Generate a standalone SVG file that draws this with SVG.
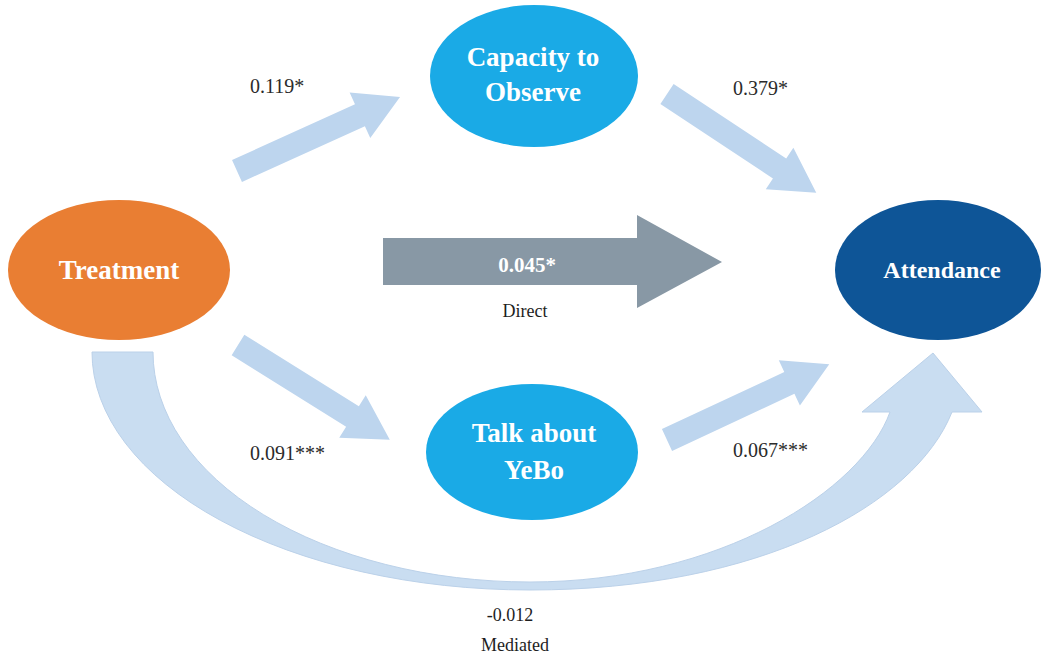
<svg xmlns="http://www.w3.org/2000/svg" width="1042" height="657" viewBox="0 0 1042 657">
  <defs>
    <style>
      .path-arrow { fill: #BDD5EE; }
      .curve { fill: #C9DDF1; stroke: #BBD1E9; stroke-width: 1; }
      .node-label { font-family: "Liberation Serif", "Times New Roman", serif; font-weight: bold; fill: #FFFFFF; text-anchor: middle; }
      .coef { font-family: "Liberation Serif", "Times New Roman", serif; font-size: 20px; fill: #2B2B2B; }
      .caption { font-family: "Liberation Serif", "Times New Roman", serif; font-size: 18px; fill: #1E1E1E; text-anchor: middle; }
    </style>
    <!-- straight block arrow, tail at origin, pointing along +x -->
    <path id="block-arrow" d="M 0,-12 L 135,-12 L 135,-25 L 179,0 L 135,25 L 135,12 L 0,12 Z"/>
  </defs>

  <rect width="1042" height="657" fill="#FFFFFF"/>

  <g id="connectors">
    <!-- mediated path: curved arrow under the middle nodes -->
    <path class="curve" d="M 92,352 L 153,352 A 377 230 0 0 0 530,582 C 720,582 862,490 890,412 L 862,412 L 933,353 L 982,412 L 952,412 C 915,505 760,590 530,590 A 438 238 0 0 1 92,352 Z"/>

    <!-- indirect paths -->
    <use href="#block-arrow" class="path-arrow" transform="translate(237,171) rotate(-24.4)"/>
    <use href="#block-arrow" class="path-arrow" transform="translate(667,94) rotate(33.5)"/>
    <use href="#block-arrow" class="path-arrow" transform="translate(238,345) rotate(32)"/>
    <use href="#block-arrow" class="path-arrow" transform="translate(667,440) rotate(-25)"/>

    <!-- direct path -->
    <path d="M 383,238 L 637,238 L 637,215 L 722,262 L 637,308 L 637,285 L 383,285 Z" fill="#8898A5"/>
    <text x="527" y="272" font-family="'Liberation Serif', 'Times New Roman', serif" font-size="21" font-weight="bold" fill="#FFFFFF" text-anchor="middle">0.045*</text>
    <text class="caption" x="525" y="317">Direct</text>

    <text class="coef" x="250" y="93">0.119*</text>
    <text class="coef" x="733" y="95">0.379*</text>
    <text class="coef" x="250" y="460">0.091***</text>
    <text class="coef" x="733" y="457">0.067***</text>
    <text class="caption" x="510" y="621">-0.012</text>
    <text class="caption" x="515" y="651">Mediated</text>
  </g>

  <g id="node-treatment">
    <ellipse cx="119" cy="270" rx="111" ry="70" fill="#E97E33"/>
    <text class="node-label" x="119" y="279" font-size="27">Treatment</text>
  </g>

  <g id="node-capacity">
    <ellipse cx="534" cy="76" rx="104" ry="71" fill="#1AAAE6"/>
    <text class="node-label" x="533" y="66" font-size="27">Capacity to</text>
    <text class="node-label" x="533" y="101" font-size="27">Observe</text>
  </g>

  <g id="node-talk">
    <ellipse cx="532" cy="452" rx="106" ry="68" fill="#1AAAE6"/>
    <text class="node-label" x="534" y="442" font-size="27">Talk about</text>
    <text class="node-label" x="534" y="479" font-size="27">YeBo</text>
  </g>

  <g id="node-attendance">
    <ellipse cx="938" cy="270" rx="103" ry="70" fill="#0E5597"/>
    <text class="node-label" x="942" y="278" font-size="24">Attendance</text>
  </g>
</svg>
